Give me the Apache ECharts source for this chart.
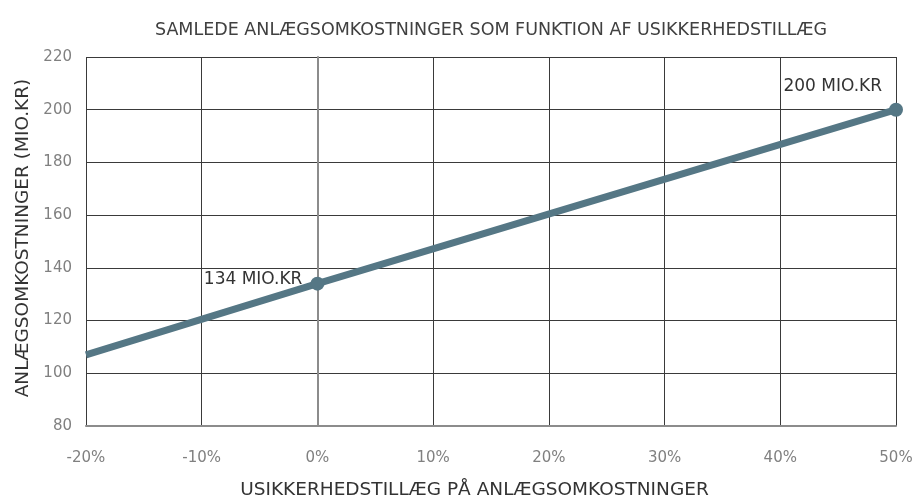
<!DOCTYPE html>
<html>
<head>
<meta charset="utf-8">
<script src="https://cdn.jsdelivr.net/npm/echarts@6/dist/echarts.min.js"></script>
<style>
  html, body { margin: 0; padding: 0; background: #ffffff; }
  #chart { width: 916px; height: 499px; }
</style>
</head>
<body>
<div id="chart"></div>
<script>
// Total construction cost (million DKK) against the uncertainty surcharge (%)
const surchargePct = [-20, 0, 50];
const totalCost = [107, 134, 200];
const pointLabels = ['', '134 MIO.KR', '200 MIO.KR'];
const yTicks = { min: 80, max: 220, step: 20 };
const xTicks = { min: -20, max: 50, step: 10 };

const FONT = '"DejaVu Sans", sans-serif';
const LINE_COLOR = '#557785';

const labelOffsets = [null, [-3, -4], [-2, -23]];

const seriesData = surchargePct.map((x, i) => {
  const item = { value: [x, totalCost[i]] };
  if (pointLabels[i]) {
    item.symbol = 'circle';
    item.symbolSize = 14;
    item.label = {
      show: true,
      position: 'left',
      offset: labelOffsets[i],
      formatter: pointLabels[i],
      color: '#333333',
      fontFamily: FONT,
      fontSize: 17
    };
  } else {
    item.symbol = 'none';
  }
  return item;
});

const chart = echarts.init(document.getElementById('chart'), null, { renderer: 'canvas' });
chart.setOption({
  animation: false,
  backgroundColor: '#ffffff',
  title: {
    text: 'SAMLEDE ANLÆGSOMKOSTNINGER SOM FUNKTION AF USIKKERHEDSTILLÆG',
    left: 486,
    textAlign: 'center',
    top: 16,
    textStyle: { fontFamily: FONT, fontSize: 17.5, fontWeight: 'normal', color: '#404040' }
  },
  grid: { left: 86, right: 20, top: 57, bottom: 73, outerBoundsMode: 'none', containLabel: false },
  xAxis: {
    type: 'value',
    min: xTicks.min,
    max: xTicks.max,
    interval: xTicks.step,
    name: 'USIKKERHEDSTILLÆG PÅ ANLÆGSOMKOSTNINGER',
    nameLocation: 'middle',
    nameGap: 55,
    nameTextStyle: { fontFamily: FONT, fontSize: 18.5, color: '#333333', padding: [0, 33, 0, 0] },
    axisLine: { show: true, lineStyle: { color: '#8c8c8c', width: 2 } },
    axisTick: { show: false },
    axisLabel: {
      formatter: '{value}%',
      margin: 25,
      color: '#808080',
      fontFamily: FONT,
      fontSize: 15
    },
    splitLine: { show: true, lineStyle: { color: '#3a3a3a', width: 1 } }
  },
  yAxis: {
    type: 'value',
    min: yTicks.min,
    max: yTicks.max,
    interval: yTicks.step,
    name: 'ANLÆGSOMKOSTNINGER (MIO.KR)',
    nameLocation: 'middle',
    nameGap: 52,
    nameTextStyle: { fontFamily: FONT, fontSize: 18.5, color: '#333333', padding: [0, 0, 0, 7] },
    axisLine: { show: true, lineStyle: { color: '#8c8c8c', width: 2 } },
    axisTick: { show: false },
    axisLabel: { margin: 14, color: '#808080', fontFamily: FONT, fontSize: 15 },
    splitLine: { show: true, lineStyle: { color: '#3a3a3a', width: 1 } }
  },
  series: [{
    type: 'line',
    data: seriesData,
    lineStyle: { color: LINE_COLOR, width: 7 },
    itemStyle: { color: LINE_COLOR },
    showSymbol: true,
    clip: false,
    z: 5
  }]
});
</script>
</body>
</html>
